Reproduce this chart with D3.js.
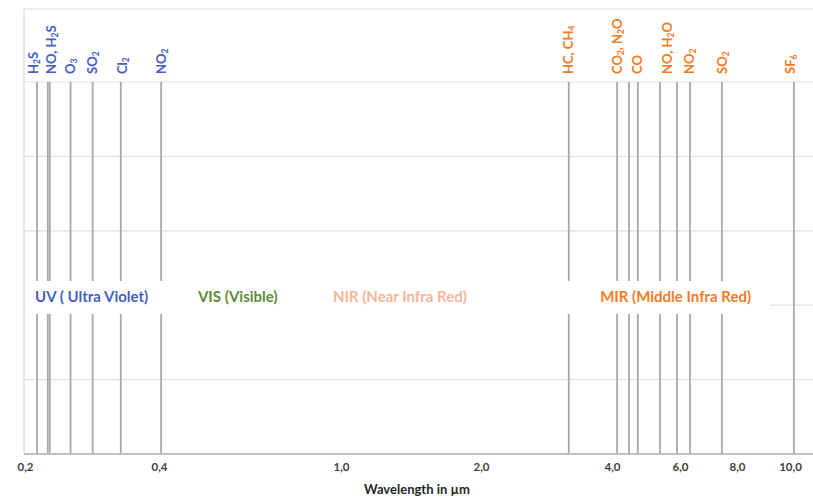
<!DOCTYPE html>
<html><head><meta charset="utf-8">
<script src="https://cdn.jsdelivr.net/npm/d3@7"></script>
<style>
html,body{margin:0;padding:0;background:#fff;}
svg{display:block;font-family:Lato,"Open Sans",sans-serif;}
</style></head>
<body><svg id="c" width="813" height="497"></svg>
<script>
// ---- data ----
const tickValues = [0.2, 0.4, 1.0, 2.0, 4.0, 6.0, 8.0, 10.0];
const tickLabels = ["0,2", "0,4", "1,0", "2,0", "4,0", "6,0", "8,0", "10,0"];
const uvLines = [0.218, 0.234, 0.237, 0.268, 0.301, 0.343, 0.407];
const irLines = [3.34, 4.15, 4.50, 4.76, 5.41, 5.91, 6.35, 7.47, 10.15];
const uvLabels = ["H2S", "NO, H2S", "O3", "SO2", "Cl2", "NO2"];
const uvLabelPos = [0.212, 0.239, 0.268, 0.301, 0.345, 0.408];
const irLabels = ["HC, CH4", "CO2, N2O", "CO", "NO, H2O", "NO2", "SO2", "SF6"];
const irLabelPos = [3.33, 4.15, 4.74, 5.62, 6.32, 7.47, 10.0];
const bandNames = ["UV ( Ultra Violet)", "VIS (Visible)", "NIR (Near Infra Red)", "MIR (Middle Infra Red)"];
const bandStart = [0.218, 0.535, 0.98, 3.85];
const gridLevels = [0, 1, 2, 3, 4, 5];
const xTitle = "Wavelength in µm";

// ---- layout ----
const svg = d3.select("#c");
const W = 813;
const tickPx = [25, 159, 341, 481, 612, 680, 737, 790];
const x = d3.scaleLinear()
  .domain(tickValues.concat([11]))
  .range(tickPx.concat([816]));
const y = d3.scaleLinear().domain([0, 5]).range([454, 82]);
const left = 24;

const blue = "#4560c4", green = "#5b8c3a", nir = "#f7b59a", orange = "#f77a22";

// frame
svg.append("line").attr("x1", left).attr("x2", W).attr("y1", 9).attr("y2", 9)
  .attr("stroke", "#d9d9d9").attr("stroke-width", 1);
svg.append("line").attr("x1", left).attr("x2", left).attr("y1", 9).attr("y2", y(0))
  .attr("stroke", "#d0d0d0").attr("stroke-width", 1);

// gridlines
svg.append("g").selectAll("line").data(gridLevels.slice(1)).join("line")
  .attr("x1", left).attr("x2", W)
  .attr("y1", d => y(d)).attr("y2", d => y(d))
  .attr("stroke", "#e0e0e0").attr("stroke-width", 1.2);

// spectral lines
const allLines = uvLines.concat(irLines);
svg.append("g").selectAll("line").data(allLines).join("line")
  .attr("x1", d => x(d)).attr("x2", d => x(d))
  .attr("y1", y(0)).attr("y2", y(5))
  .attr("stroke", "#a8a8a8").attr("stroke-width", 1.8);

// white band for region labels
svg.append("rect").attr("x", left + 1).attr("y", 281).attr("width", 745).attr("height", 33)
  .attr("fill", "#fff");

// band labels
const bandColors = [blue, green, nir, orange];
svg.append("g").selectAll("text").data(bandNames).join("text")
  .attr("x", (d, i) => x(bandStart[i]) - 2)
  .attr("y", 297).attr("dy", "0.35em")
  .attr("fill", (d, i) => bandColors[i])
  .attr("font-size", 15).attr("font-weight", 700)
  .text(d => d);

// axis
const axis = d3.axisBottom(x).tickValues(tickValues)
  .tickFormat((d, i) => tickLabels[i]).tickSize(0).tickPadding(9);
const ag = svg.append("g").attr("transform", `translate(0,${y(0)})`).call(axis);
ag.select(".domain").remove();
ag.selectAll("text").attr("font-family", "Lato, sans-serif").attr("font-size", 11.5)
  .attr("font-weight", 700).attr("fill", "#404040");
svg.append("line").attr("x1", left).attr("x2", W).attr("y1", y(0)).attr("y2", y(0))
  .attr("stroke", "#bfbfbf").attr("stroke-width", 2);

svg.append("text").attr("x", 417).attr("y", 489).attr("dy", "0.35em")
  .attr("text-anchor", "middle").attr("font-size", 13).attr("font-weight", 700)
  .attr("fill", "#262626").text(xTitle);

// gas labels (rotated, numbers as subscripts)
function gasLabel(g, label, xv, color) {
  const t = g.append("text")
    .attr("transform", `translate(${x(xv)},74) rotate(-90)`)
    .attr("dy", "0.36em")
    .attr("fill", color).attr("font-size", 13).attr("font-weight", 700);
  label.split(/(\d+)/).filter(s => s.length).forEach(s => {
    if (/^\d+$/.test(s)) {
      t.append("tspan").attr("font-size", 8.5).attr("baseline-shift", "-2").text(s);
    } else {
      t.append("tspan").text(s);
    }
  });
}
const lg = svg.append("g");
uvLabels.forEach((l, i) => gasLabel(lg, l, uvLabelPos[i], blue));
irLabels.forEach((l, i) => gasLabel(lg, l, irLabelPos[i], orange));
</script></body></html>
